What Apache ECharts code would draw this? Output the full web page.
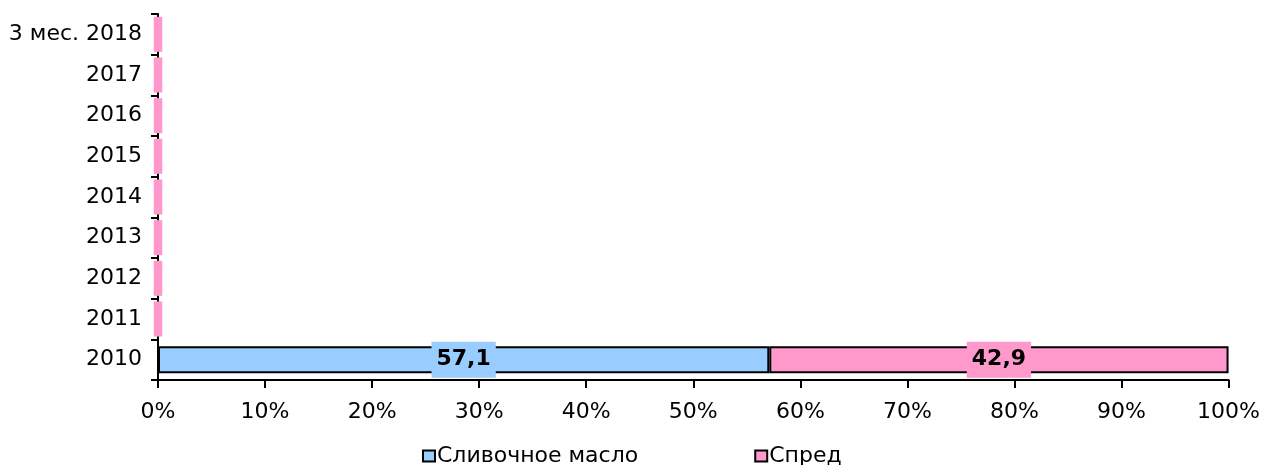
<!DOCTYPE html>
<html>
<head>
<meta charset="utf-8">
<script src="https://cdn.jsdelivr.net/npm/echarts@6/dist/echarts.min.js"></script>
<style>
html,body{margin:0;padding:0;background:#fff;}
#chart{width:1263px;height:465px;}
</style>
</head>
<body>
<div id="chart"></div>
<script>
const categories = ['2010','2011','2012','2013','2014','2015','2016','2017','3 мес. 2018'];
const butter = [57.1, null, null, null, null, null, null, null, null];
const spread = [42.9, null, null, null, null, null, null, null, null];
// thin pink marks drawn at the 0% line for the years without data
const stubLeft = [null, -0.4, -0.4, -0.4, -0.4, -0.4, -0.4, -0.4, -0.4];
const stubRight = [null, 0.4, 0.4, 0.4, 0.4, 0.4, 0.4, 0.4, 0.4];
const xTicks = [0, 10, 20, 30, 40, 50, 60, 70, 80, 90, 100];

const FONT = 'DejaVu Sans';
const FS = 22;
const BLUE = '#99CCFF';
const PINK = '#FF99CC';
const fmt = p => p.value.toFixed(1).replace('.', ',');

const chart = echarts.init(document.getElementById('chart'));
chart.setOption({
  animation: false,
  textStyle: { fontFamily: FONT },
  grid: { left: 158, right: 34, top: 14, bottom: 85, containLabel: false },
  legend: {
    data: ['Сливочное масло', 'Спред'],
    left: 417,
    top: 440,
    itemGap: 116,
    icon: 'rect',
    itemWidth: 12,
    itemHeight: 11,
    itemStyle: { borderColor: '#000', borderWidth: 2 },
    textStyle: { fontFamily: FONT, fontSize: FS, color: '#000', padding: [0, 0, 0, -3] }
  },
  xAxis: {
    type: 'value',
    min: xTicks[0],
    max: xTicks[xTicks.length - 1],
    interval: 10,
    splitLine: { show: false },
    axisLine: { show: true, lineStyle: { color: '#000', width: 2 } },
    axisTick: { show: true, length: 8, lineStyle: { color: '#000', width: 2 } },
    axisLabel: { fontFamily: FONT, fontSize: FS, color: '#000', margin: 21, formatter: '{value}%' }
  },
  yAxis: [{
    type: 'category',
    data: categories,
    axisLine: { show: true, lineStyle: { color: '#000', width: 2 } },
    axisTick: { show: true, length: 7, lineStyle: { color: '#000', width: 2 } },
    axisLabel: { fontFamily: FONT, fontSize: FS, color: '#000', margin: 16 }
  }, {
    type: 'category',
    data: categories,
    show: false
  }],
  series: [{
    name: 'Сливочное масло',
    type: 'bar',
    stack: 'total',
    data: butter,
    barWidth: 27,
    itemStyle: { color: BLUE, borderColor: '#000', borderWidth: 2 },
    label: {
      show: true, position: 'inside', formatter: fmt,
      fontFamily: FONT, fontSize: FS, fontWeight: 'bold', color: '#000',
      backgroundColor: BLUE, padding: [8, 5, 6, 5]
    }
  }, {
    name: 'Спред',
    type: 'bar',
    stack: 'total',
    data: spread,
    barWidth: 27,
    itemStyle: { color: PINK, borderColor: '#000', borderWidth: 2 },
    label: {
      show: true, position: 'inside', formatter: fmt,
      fontFamily: FONT, fontSize: FS, fontWeight: 'bold', color: '#000',
      backgroundColor: PINK, padding: [8, 5, 6, 5]
    }
  }, {
    name: 'stubL',
    type: 'bar',
    yAxisIndex: 1,
    stack: 'stub',
    data: stubLeft,
    barWidth: 35,
    clip: false,
    silent: true,
    itemStyle: { color: PINK }
  }, {
    name: 'stubR',
    type: 'bar',
    yAxisIndex: 1,
    stack: 'stub',
    data: stubRight,
    barWidth: 35,
    clip: false,
    silent: true,
    itemStyle: { color: PINK }
  }]
});
</script>
</body>
</html>
